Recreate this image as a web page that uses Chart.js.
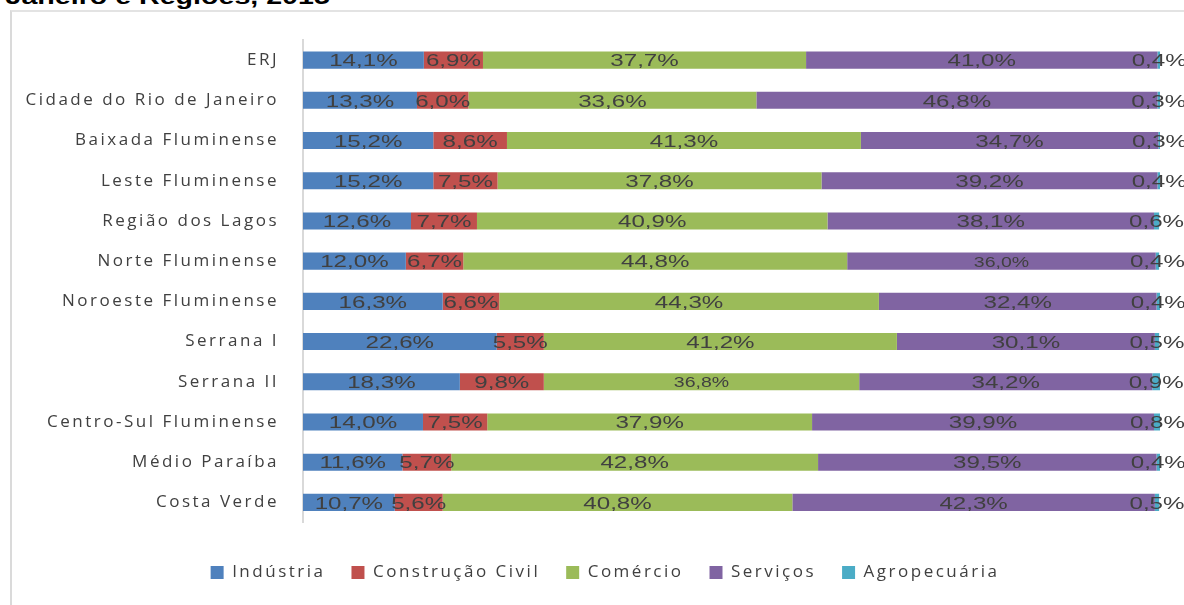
<!DOCTYPE html>
<html>
<head>
<meta charset="utf-8">
<script src="https://cdn.jsdelivr.net/npm/chart.js@4/dist/chart.umd.min.js"></script>
<style>
  html, body { margin: 0; padding: 0; background: #fff; overflow: hidden; }
  #wrap { position: relative; width: 1184px; height: 605px; }
  #frame { position: absolute; left: 10px; top: 10px; width: 1200px; height: 620px;
           border-top: 2px solid #e3e3e3; border-left: 2px solid #dadada; }
  #title { position: absolute; top: -14px; right: 854px; white-space: nowrap;
           font: bold 22px/22px "Liberation Sans", Arial, sans-serif; color: #000;
           transform: scaleX(1.3); transform-origin: right center; }
  #box { position: absolute; left: 0; top: 0; width: 1184px; height: 605px; }
</style>
</head>
<body>
<div id="wrap">
  <div id="frame"></div>
  <div id="title">Rio de Janeiro e Regiões, 2015</div>
  <div id="box"><canvas id="chart"></canvas></div>
</div>
<script>
// categorias (regiões)
const regioes = ['ERJ', 'Cidade do Rio de Janeiro', 'Baixada Fluminense', 'Leste Fluminense',
  'Região dos Lagos', 'Norte Fluminense', 'Noroeste Fluminense', 'Serrana I', 'Serrana II',
  'Centro-Sul Fluminense', 'Médio Paraíba', 'Costa Verde'];

// participação por setor (%)
const industria    = [14.1, 13.3, 15.2, 15.2, 12.6, 12.0, 16.3, 22.6, 18.3, 14.0, 11.6, 10.7];
const construcao   = [6.9, 6.0, 8.6, 7.5, 7.7, 6.7, 6.6, 5.5, 9.8, 7.5, 5.7, 5.6];
const comercio     = [37.7, 33.6, 41.3, 37.8, 40.9, 44.8, 44.3, 41.2, 36.8, 37.9, 42.8, 40.8];
const servicos     = [41.0, 46.8, 34.7, 39.2, 38.1, 36.0, 32.4, 30.1, 34.2, 39.9, 39.5, 42.3];
const agropecuaria = [0.4, 0.3, 0.3, 0.4, 0.6, 0.4, 0.4, 0.5, 0.9, 0.8, 0.4, 0.5];

// rótulos que aparecem menores no original (dataset, índice)
const rotulosMenores = [[2, 8], [3, 5]];

const fmt = v => v.toFixed(1).replace('.', ',') + '%';

// espaçamento das letras dos eixos/legenda + legenda deslocada
const espacamento = {
  id: 'espacamento',
  beforeLayout(chart) { chart.ctx.letterSpacing = '2.5px'; },
  afterLayout(chart) { chart.legend.left = 50; },
  beforeDraw(chart) { chart.ctx.letterSpacing = '2.5px'; }
};

// rótulos de dados no centro de cada segmento
const rotulos = {
  id: 'rotulos',
  afterDatasetsDraw(chart) {
    const ctx = chart.ctx;
    ctx.save();
    ctx.letterSpacing = '0px';
    ctx.fillStyle = '#404040';
    ctx.textAlign = 'center';
    ctx.textBaseline = 'middle';
    chart.data.datasets.forEach((ds, di) => {
      const meta = chart.getDatasetMeta(di);
      meta.data.forEach((bar, i) => {
        const small = rotulosMenores.some(p => p[0] === di && p[1] === i);
        const cx = (bar.x + bar.base) / 2;
        ctx.save();
        ctx.translate(cx, bar.y + 1.5);
        ctx.scale(small ? 1.3 : 1.42, 1);
        ctx.font = (small ? '15px' : '17px') + ' "Liberation Sans", Arial, sans-serif';
        ctx.fillText(fmt(ds.data[i]), 0, 0);
        ctx.restore();
      });
    });
    ctx.restore();
  }
};

const ctx = document.getElementById('chart').getContext('2d');
new Chart(ctx, {
  type: 'bar',
  data: {
    labels: regioes,
    datasets: [
      { label: 'Indústria', data: industria, backgroundColor: '#4F81BD' },
      { label: 'Construção Civil', data: construcao, backgroundColor: '#C0504D' },
      { label: 'Comércio', data: comercio, backgroundColor: '#9BBB59' },
      { label: 'Serviços', data: servicos, backgroundColor: '#8064A2' },
      { label: 'Agropecuária', data: agropecuaria, backgroundColor: '#4BACC6' }
    ]
  },
  options: {
    indexAxis: 'y',
    responsive: true,
    maintainAspectRatio: false,
    animation: false,
    categoryPercentage: 0.85,
    barPercentage: 0.5,
    layout: { padding: { top: 40, right: 24, bottom: 14, left: 0 } },
    scales: {
      x: {
        stacked: true,
        min: 0,
        max: 100,
        grid: { display: false },
        border: { display: false },
        ticks: { display: false },
        afterFit: s => { s.height = 15.5; }
      },
      y: {
        stacked: true,
        grid: { display: false, drawTicks: false },
        border: { display: true, color: '#d9d9d9', width: 2 },
        ticks: {
          color: '#404040',
          padding: 24,
          font: { family: '"Open Sans", sans-serif', size: 17 }
        },
        afterFit: s => { s.width = 303; }
      }
    },
    plugins: {
      legend: {
        position: 'bottom',
        labels: {
          color: '#404040',
          boxWidth: 13,
          boxHeight: 13,
          padding: 26,
          font: { family: '"Open Sans", sans-serif', size: 17 }
        }
      },
      tooltip: { enabled: false }
    }
  },
  plugins: [espacamento, rotulos]
});
</script>
</body>
</html>
